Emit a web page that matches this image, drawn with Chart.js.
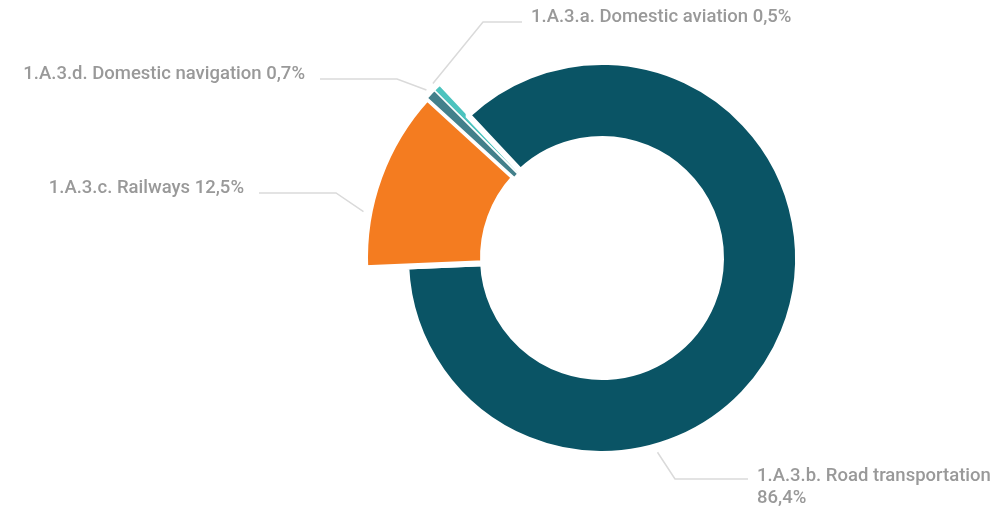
<!DOCTYPE html>
<html lang="en">
<head>
  <meta charset="UTF-8" />
  <title>1.A.3 Transport</title>
  <script src="https://cdn.jsdelivr.net/npm/chart.js"></script>
  <style>
    body { margin: 0; background: #fff; }
    .wrap { width: 998px; height: 510px; position: relative; }
  </style>
</head>
<body>
  <div class="wrap"><canvas id="chart"></canvas></div>

  <script>
    // data, in drawing order (clockwise)
    const categories = [
      "1.A.3.a. Domestic aviation",
      "1.A.3.b. Road transportation",
      "1.A.3.c. Railways",
      "1.A.3.d. Domestic navigation"
    ];
    const shares = [0.5, 86.4, 12.5, 0.7];
    const colors = ["#4cc3be", "#0a5465", "#f47c20", "#43808b"];

    // ring sizes (px): road ring is smaller than the others
    const ring = { inner: 119, outer: [237, 196, 237, 237] };
    const gapBorder = [1.5, 6, 6, 1.5];

    // label layout: where along the slice the leader starts, elbow, end of line
    const labelLayout = [
      { frac: 0.5,  elbow: [483, 22],  end: [522, 22],  side: "right" },
      { frac: 0.667, elbow: [675, 479], end: [748, 479], side: "right" },
      { frac: 0.3,  elbow: [336, 193], end: [259, 193], side: "left" },
      { frac: 0.5,  elbow: [397, 79],  end: [320, 79],  side: "left" }
    ];

    const fmt = v => v.toFixed(1).replace(".", ",") + "%";

    const ringSizes = {
      id: "ringSizes",
      afterDatasetsUpdate(chart) {
        chart.getDatasetMeta(0).data.forEach((arc, i) => {
          arc.outerRadius = ring.outer[i];
          arc.innerRadius = ring.inner;
        });
      }
    };

    const leaderLabels = {
      id: "leaderLabels",
      afterDatasetsDraw(chart) {
        const ctx = chart.ctx;
        const meta = chart.getDatasetMeta(0);
        ctx.save();
        ctx.font = "500 18.5px Roboto";
        ctx.textBaseline = "middle";
        meta.data.forEach((arc, i) => {
          const L = labelLayout[i];
          const a = arc.startAngle + (arc.endAngle - arc.startAngle) * L.frac;
          const r = arc.outerRadius + 6;
          const sx = arc.x + Math.cos(a) * r;
          const sy = arc.y + Math.sin(a) * r;
          ctx.strokeStyle = "#dadada";
          ctx.lineWidth = 1.5;
          ctx.beginPath();
          ctx.moveTo(sx, sy);
          ctx.lineTo(L.elbow[0], L.elbow[1]);
          ctx.lineTo(L.end[0], L.end[1]);
          ctx.stroke();

          ctx.fillStyle = "#999999";
          const full = categories[i] + " " + fmt(shares[i]);
          const ty = L.end[1] - 5;
          if (L.side === "left") {
            ctx.textAlign = "right";
            ctx.fillText(full, L.end[0] - 15, ty);
          } else {
            ctx.textAlign = "left";
            const x = L.end[0] + 9;
            if (x + ctx.measureText(full).width > chart.width) {
              // too long for the page: value goes on its own line
              ctx.fillText(categories[i], x, ty + 2);
              ctx.fillText(fmt(shares[i]), x, ty + 24);
            } else {
              ctx.fillText(full, x, ty);
            }
          }
        });
        ctx.restore();
      }
    };

    new Chart(document.getElementById("chart"), {
      type: "doughnut",
      data: {
        labels: categories,
        datasets: [{
          data: shares,
          backgroundColor: colors,
          borderColor: "#ffffff",
          borderWidth: gapBorder
        }]
      },
      options: {
        responsive: true,
        maintainAspectRatio: false,
        animation: false,
        events: [],
        rotation: -45,
        layout: { padding: { left: 206, top: 6, right: 0, bottom: 0 } },
        plugins: {
          legend: { display: false },
          tooltip: { enabled: false }
        }
      },
      plugins: [ringSizes, leaderLabels]
    });
  </script>
</body>
</html>
